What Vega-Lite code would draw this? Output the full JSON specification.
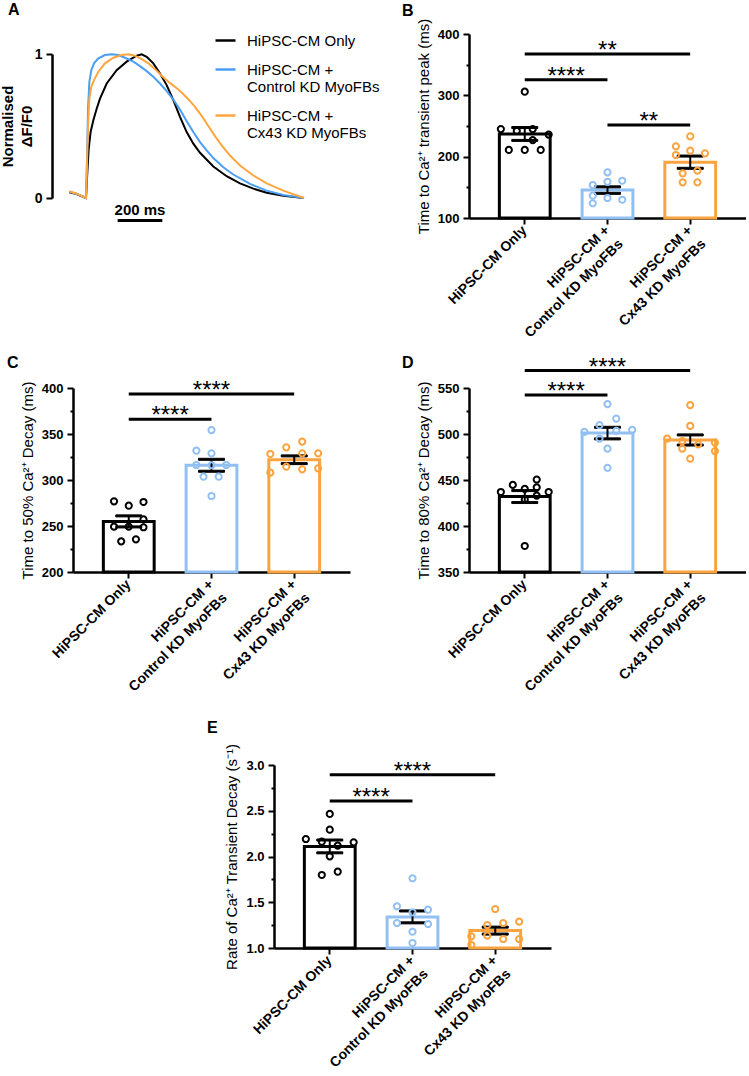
{
"$schema": "https://vega.github.io/schema/vega-lite/v6.json",
"padding": {"left": 0, "top": 1, "right": 0, "bottom": 0},
"autosize": {"type": "pad"},
"config": {
 "view": {"stroke": null},
 "font": "Liberation Sans",
 "axis": {"domainColor": "#000", "domainWidth": 2.5, "tickColor": "#000", "tickWidth": 2, "labelColor": "#000", "titleColor": "#000", "labelFont": "Liberation Sans", "titleFont": "Liberation Sans", "grid": false, "labelFontWeight": "bold", "labelFontSize": 13, "titleFontWeight": "normal", "titleFontSize": 15},
 "axisX": {"labelAngle": -45, "labelAlign": "right", "labelBaseline": "middle", "labelFontSize": 14, "tickSize": 6, "labelPadding": 4, "labelLineHeight": 19},
 "axisY": {"tickSize": 6, "labelPadding": 4, "titlePadding": 6},
 "title": {"font": "Liberation Sans", "fontSize": 16, "fontWeight": "bold", "color": "#000", "anchor": "start", "frame": "group", "offset": 0}
},
"datasets": {
 "trace": [
  {"s":"HiPSC-CM Only","t":0,"v":0.04},{"s":"HiPSC-CM Only","t":32.8,"v":0.028},{"s":"HiPSC-CM Only","t":74.6,"v":0},{"s":"HiPSC-CM Only","t":80.6,"v":0.18},{"s":"HiPSC-CM Only","t":86.6,"v":0.34},{"s":"HiPSC-CM Only","t":95.5,"v":0.46},{"s":"HiPSC-CM Only","t":107.5,"v":0.54},{"s":"HiPSC-CM Only","t":122.4,"v":0.62},{"s":"HiPSC-CM Only","t":137.3,"v":0.69},{"s":"HiPSC-CM Only","t":167.2,"v":0.795},{"s":"HiPSC-CM Only","t":211.9,"v":0.888},{"s":"HiPSC-CM Only","t":256.7,"v":0.947},{"s":"HiPSC-CM Only","t":301.5,"v":0.988},{"s":"HiPSC-CM Only","t":323.9,"v":0.998},{"s":"HiPSC-CM Only","t":346.3,"v":0.981},{"s":"HiPSC-CM Only","t":376.1,"v":0.935},{"s":"HiPSC-CM Only","t":406,"v":0.865},{"s":"HiPSC-CM Only","t":435.8,"v":0.784},{"s":"HiPSC-CM Only","t":465.7,"v":0.679},{"s":"HiPSC-CM Only","t":495.5,"v":0.563},{"s":"HiPSC-CM Only","t":525.4,"v":0.458},{"s":"HiPSC-CM Only","t":555.2,"v":0.377},{"s":"HiPSC-CM Only","t":585.1,"v":0.314},{"s":"HiPSC-CM Only","t":644.8,"v":0.219},{"s":"HiPSC-CM Only","t":704.5,"v":0.151},{"s":"HiPSC-CM Only","t":764.2,"v":0.102},{"s":"HiPSC-CM Only","t":823.9,"v":0.065},{"s":"HiPSC-CM Only","t":883.6,"v":0.037},{"s":"HiPSC-CM Only","t":958.2,"v":0.016},{"s":"HiPSC-CM Only","t":1050.7,"v":0},
  {"s":"HiPSC-CM + Control KD MyoFBs","t":0,"v":0.044},{"s":"HiPSC-CM + Control KD MyoFBs","t":32.8,"v":0.028},{"s":"HiPSC-CM + Control KD MyoFBs","t":74.6,"v":0},{"s":"HiPSC-CM + Control KD MyoFBs","t":79.1,"v":0.272},{"s":"HiPSC-CM + Control KD MyoFBs","t":83.6,"v":0.621},{"s":"HiPSC-CM + Control KD MyoFBs","t":89.6,"v":0.807},{"s":"HiPSC-CM + Control KD MyoFBs","t":98.5,"v":0.888},{"s":"HiPSC-CM + Control KD MyoFBs","t":110.4,"v":0.935},{"s":"HiPSC-CM + Control KD MyoFBs","t":129.8,"v":0.97},{"s":"HiPSC-CM + Control KD MyoFBs","t":159.7,"v":0.993},{"s":"HiPSC-CM + Control KD MyoFBs","t":189.5,"v":0.998},{"s":"HiPSC-CM + Control KD MyoFBs","t":219.4,"v":0.993},{"s":"HiPSC-CM + Control KD MyoFBs","t":249.2,"v":0.974},{"s":"HiPSC-CM + Control KD MyoFBs","t":286.6,"v":0.947},{"s":"HiPSC-CM + Control KD MyoFBs","t":316.4,"v":0.916},{"s":"HiPSC-CM + Control KD MyoFBs","t":346.3,"v":0.881},{"s":"HiPSC-CM + Control KD MyoFBs","t":376.1,"v":0.842},{"s":"HiPSC-CM + Control KD MyoFBs","t":406,"v":0.795},{"s":"HiPSC-CM + Control KD MyoFBs","t":435.8,"v":0.742},{"s":"HiPSC-CM + Control KD MyoFBs","t":465.7,"v":0.684},{"s":"HiPSC-CM + Control KD MyoFBs","t":495.5,"v":0.614},{"s":"HiPSC-CM + Control KD MyoFBs","t":525.4,"v":0.533},{"s":"HiPSC-CM + Control KD MyoFBs","t":555.2,"v":0.458},{"s":"HiPSC-CM + Control KD MyoFBs","t":585.1,"v":0.388},{"s":"HiPSC-CM + Control KD MyoFBs","t":614.9,"v":0.33},{"s":"HiPSC-CM + Control KD MyoFBs","t":644.8,"v":0.277},{"s":"HiPSC-CM + Control KD MyoFBs","t":689.5,"v":0.214},{"s":"HiPSC-CM + Control KD MyoFBs","t":734.3,"v":0.163},{"s":"HiPSC-CM + Control KD MyoFBs","t":808.9,"v":0.098},{"s":"HiPSC-CM + Control KD MyoFBs","t":883.6,"v":0.051},{"s":"HiPSC-CM + Control KD MyoFBs","t":958.2,"v":0.021},{"s":"HiPSC-CM + Control KD MyoFBs","t":1050.7,"v":0},
  {"s":"HiPSC-CM + Cx43 KD MyoFBs","t":0,"v":0.047},{"s":"HiPSC-CM + Cx43 KD MyoFBs","t":32.8,"v":0.03},{"s":"HiPSC-CM + Cx43 KD MyoFBs","t":74.6,"v":0},{"s":"HiPSC-CM + Cx43 KD MyoFBs","t":79.1,"v":0.226},{"s":"HiPSC-CM + Cx43 KD MyoFBs","t":83.6,"v":0.505},{"s":"HiPSC-CM + Cx43 KD MyoFBs","t":89.6,"v":0.691},{"s":"HiPSC-CM + Cx43 KD MyoFBs","t":98.5,"v":0.772},{"s":"HiPSC-CM + Cx43 KD MyoFBs","t":110.4,"v":0.819},{"s":"HiPSC-CM + Cx43 KD MyoFBs","t":129.8,"v":0.877},{"s":"HiPSC-CM + Cx43 KD MyoFBs","t":159.7,"v":0.935},{"s":"HiPSC-CM + Cx43 KD MyoFBs","t":197,"v":0.974},{"s":"HiPSC-CM + Cx43 KD MyoFBs","t":234.3,"v":0.993},{"s":"HiPSC-CM + Cx43 KD MyoFBs","t":264.2,"v":0.998},{"s":"HiPSC-CM + Cx43 KD MyoFBs","t":294,"v":0.988},{"s":"HiPSC-CM + Cx43 KD MyoFBs","t":323.9,"v":0.965},{"s":"HiPSC-CM + Cx43 KD MyoFBs","t":353.7,"v":0.935},{"s":"HiPSC-CM + Cx43 KD MyoFBs","t":383.6,"v":0.895},{"s":"HiPSC-CM + Cx43 KD MyoFBs","t":413.4,"v":0.849},{"s":"HiPSC-CM + Cx43 KD MyoFBs","t":443.3,"v":0.807},{"s":"HiPSC-CM + Cx43 KD MyoFBs","t":473.1,"v":0.772},{"s":"HiPSC-CM + Cx43 KD MyoFBs","t":503,"v":0.733},{"s":"HiPSC-CM + Cx43 KD MyoFBs","t":532.8,"v":0.686},{"s":"HiPSC-CM + Cx43 KD MyoFBs","t":562.7,"v":0.633},{"s":"HiPSC-CM + Cx43 KD MyoFBs","t":592.5,"v":0.57},{"s":"HiPSC-CM + Cx43 KD MyoFBs","t":622.4,"v":0.5},{"s":"HiPSC-CM + Cx43 KD MyoFBs","t":652.2,"v":0.43},{"s":"HiPSC-CM + Cx43 KD MyoFBs","t":682.1,"v":0.365},{"s":"HiPSC-CM + Cx43 KD MyoFBs","t":719.4,"v":0.295},{"s":"HiPSC-CM + Cx43 KD MyoFBs","t":764.2,"v":0.226},{"s":"HiPSC-CM + Cx43 KD MyoFBs","t":823.9,"v":0.156},{"s":"HiPSC-CM + Cx43 KD MyoFBs","t":883.6,"v":0.102},{"s":"HiPSC-CM + Cx43 KD MyoFBs","t":958.2,"v":0.051},{"s":"HiPSC-CM + Cx43 KD MyoFBs","t":1050.7,"v":0}
 ],
 "Abar": [{"t": 216.4, "t2": 416.4, "v": -0.156}],
 "Atext": [{"t": 316.4, "v": -0.119, "lab": "200 ms"}],
 "Bpts": [
  {"g":"HiPSC-CM Only","v":306,"j":0},{"g":"HiPSC-CM Only","v":245,"j":-3},{"g":"HiPSC-CM Only","v":242,"j":-1},{"g":"HiPSC-CM Only","v":245,"j":1},{"g":"HiPSC-CM Only","v":236,"j":3},{"g":"HiPSC-CM Only","v":227,"j":1},{"g":"HiPSC-CM Only","v":211,"j":-2},{"g":"HiPSC-CM Only","v":211,"j":0},{"g":"HiPSC-CM Only","v":211,"j":2},
  {"g":"HiPSC-CM + Control KD MyoFBs","v":174.5,"j":0},{"g":"HiPSC-CM + Control KD MyoFBs","v":153.8,"j":-1.85},{"g":"HiPSC-CM + Control KD MyoFBs","v":159,"j":0},{"g":"HiPSC-CM + Control KD MyoFBs","v":160.8,"j":1.85},{"g":"HiPSC-CM + Control KD MyoFBs","v":136.4,"j":-1.85},{"g":"HiPSC-CM + Control KD MyoFBs","v":132.6,"j":0},{"g":"HiPSC-CM + Control KD MyoFBs","v":129.8,"j":1.85},{"g":"HiPSC-CM + Control KD MyoFBs","v":124,"j":-1.85},
  {"g":"HiPSC-CM + Cx43 KD MyoFBs","v":233.2,"j":0},{"g":"HiPSC-CM + Cx43 KD MyoFBs","v":216.9,"j":-1.8},{"g":"HiPSC-CM + Cx43 KD MyoFBs","v":209.8,"j":0},{"g":"HiPSC-CM + Cx43 KD MyoFBs","v":202.7,"j":-1.8},{"g":"HiPSC-CM + Cx43 KD MyoFBs","v":205.5,"j":1.85},{"g":"HiPSC-CM + Cx43 KD MyoFBs","v":177.2,"j":0.9},{"g":"HiPSC-CM + Cx43 KD MyoFBs","v":172.8,"j":-0.95},{"g":"HiPSC-CM + Cx43 KD MyoFBs","v":158.2,"j":-0.95},{"g":"HiPSC-CM + Cx43 KD MyoFBs","v":158.2,"j":0.9}
 ],
 "Bsum": [{"g":"HiPSC-CM Only","v":237,"sem":10.5},{"g":"HiPSC-CM + Control KD MyoFBs","v":145.5,"sem":5.3},{"g":"HiPSC-CM + Cx43 KD MyoFBs","v":191,"sem":10}],
 "Bsig": [{"i1":1,"i2":3,"v":367.4,"lab":"**"},{"i1":1,"i2":2,"v":325.5,"lab":"****"},{"i1":2,"i2":3,"v":251.6,"lab":"**"}],
 "Cpts": [
  {"g":"HiPSC-CM Only","v":276.8,"j":-1.85},{"g":"HiPSC-CM Only","v":272.1,"j":0},{"g":"HiPSC-CM Only","v":276.1,"j":1.85},{"g":"HiPSC-CM Only","v":249.3,"j":-1.85},{"g":"HiPSC-CM Only","v":249.3,"j":0},{"g":"HiPSC-CM Only","v":257.2,"j":1.85},{"g":"HiPSC-CM Only","v":248.6,"j":1.85},{"g":"HiPSC-CM Only","v":233.3,"j":-0.95},{"g":"HiPSC-CM Only","v":235.5,"j":0.9},
  {"g":"HiPSC-CM + Control KD MyoFBs","v":354.3,"j":0},{"g":"HiPSC-CM + Control KD MyoFBs","v":331.9,"j":-1.9},{"g":"HiPSC-CM + Control KD MyoFBs","v":329,"j":0},{"g":"HiPSC-CM + Control KD MyoFBs","v":316.3,"j":-1.9},{"g":"HiPSC-CM + Control KD MyoFBs","v":316.3,"j":1.85},{"g":"HiPSC-CM + Control KD MyoFBs","v":303.6,"j":-1},{"g":"HiPSC-CM + Control KD MyoFBs","v":303.6,"j":0.9},{"g":"HiPSC-CM + Control KD MyoFBs","v":282.6,"j":0},{"g":"HiPSC-CM + Control KD MyoFBs","v":316,"j":0},
  {"g":"HiPSC-CM + Cx43 KD MyoFBs","v":328.3,"j":-3},{"g":"HiPSC-CM + Cx43 KD MyoFBs","v":335.5,"j":-1},{"g":"HiPSC-CM + Cx43 KD MyoFBs","v":341.7,"j":1},{"g":"HiPSC-CM + Cx43 KD MyoFBs","v":329,"j":3},{"g":"HiPSC-CM + Cx43 KD MyoFBs","v":329,"j":1},{"g":"HiPSC-CM + Cx43 KD MyoFBs","v":308,"j":-3},{"g":"HiPSC-CM + Cx43 KD MyoFBs","v":314.5,"j":-1},{"g":"HiPSC-CM + Cx43 KD MyoFBs","v":311.6,"j":1},{"g":"HiPSC-CM + Cx43 KD MyoFBs","v":312.7,"j":3}
 ],
 "Csum": [{"g":"HiPSC-CM Only","v":255,"sem":6},{"g":"HiPSC-CM + Control KD MyoFBs","v":316,"sem":6.5},{"g":"HiPSC-CM + Cx43 KD MyoFBs","v":322,"sem":4.2}],
 "Csig": [{"i1":1,"i2":3,"v":393.5,"lab":"****"},{"i1":1,"i2":2,"v":366,"lab":"****"}],
 "Dpts": [
  {"g":"HiPSC-CM Only","v":437,"j":-3},{"g":"HiPSC-CM Only","v":444.7,"j":-1.5},{"g":"HiPSC-CM Only","v":440.3,"j":0},{"g":"HiPSC-CM Only","v":450.5,"j":1.5},{"g":"HiPSC-CM Only","v":442,"j":1.5},{"g":"HiPSC-CM Only","v":433,"j":1.5},{"g":"HiPSC-CM Only","v":437,"j":3},{"g":"HiPSC-CM Only","v":428.7,"j":0},{"g":"HiPSC-CM Only","v":378.3,"j":0},
  {"g":"HiPSC-CM + Control KD MyoFBs","v":532.5,"j":0},{"g":"HiPSC-CM + Control KD MyoFBs","v":516.8,"j":1.1},{"g":"HiPSC-CM + Control KD MyoFBs","v":509.6,"j":-1},{"g":"HiPSC-CM + Control KD MyoFBs","v":503.4,"j":1.1},{"g":"HiPSC-CM + Control KD MyoFBs","v":502.3,"j":-2.9},{"g":"HiPSC-CM + Control KD MyoFBs","v":504.4,"j":3.1},{"g":"HiPSC-CM + Control KD MyoFBs","v":495,"j":-1},{"g":"HiPSC-CM + Control KD MyoFBs","v":484.1,"j":0},{"g":"HiPSC-CM + Control KD MyoFBs","v":463.3,"j":0},
  {"g":"HiPSC-CM + Cx43 KD MyoFBs","v":531.4,"j":0},{"g":"HiPSC-CM + Cx43 KD MyoFBs","v":508.8,"j":0},{"g":"HiPSC-CM + Cx43 KD MyoFBs","v":495,"j":-2.9},{"g":"HiPSC-CM + Cx43 KD MyoFBs","v":492.4,"j":-1},{"g":"HiPSC-CM + Cx43 KD MyoFBs","v":488.8,"j":1},{"g":"HiPSC-CM + Cx43 KD MyoFBs","v":484.1,"j":-1},{"g":"HiPSC-CM + Cx43 KD MyoFBs","v":490.7,"j":3.1},{"g":"HiPSC-CM + Cx43 KD MyoFBs","v":481.5,"j":3.1},{"g":"HiPSC-CM + Cx43 KD MyoFBs","v":473.2,"j":0}
 ],
 "Dsum": [{"g":"HiPSC-CM Only","v":432,"sem":6.5},{"g":"HiPSC-CM + Control KD MyoFBs","v":501,"sem":6.3},{"g":"HiPSC-CM + Cx43 KD MyoFBs","v":493.5,"sem":5.5}],
 "Dsig": [{"i1":1,"i2":3,"v":568.9,"lab":"****"},{"i1":1,"i2":2,"v":542.3,"lab":"****"}],
 "Epts": [
  {"g":"HiPSC-CM Only","v":2.465,"j":0},{"g":"HiPSC-CM Only","v":2.293,"j":0},{"g":"HiPSC-CM Only","v":2.191,"j":-3},{"g":"HiPSC-CM Only","v":2.162,"j":-1},{"g":"HiPSC-CM Only","v":2.118,"j":1},{"g":"HiPSC-CM Only","v":2.155,"j":3},{"g":"HiPSC-CM Only","v":2.002,"j":0},{"g":"HiPSC-CM Only","v":1.798,"j":-1},{"g":"HiPSC-CM Only","v":1.834,"j":1},
  {"g":"HiPSC-CM + Control KD MyoFBs","v":1.762,"j":0},{"g":"HiPSC-CM + Control KD MyoFBs","v":1.456,"j":-1.95},{"g":"HiPSC-CM + Control KD MyoFBs","v":1.419,"j":1.95},{"g":"HiPSC-CM + Control KD MyoFBs","v":1.39,"j":0},{"g":"HiPSC-CM + Control KD MyoFBs","v":1.273,"j":-1.95},{"g":"HiPSC-CM + Control KD MyoFBs","v":1.262,"j":1.95},{"g":"HiPSC-CM + Control KD MyoFBs","v":1.178,"j":0},{"g":"HiPSC-CM + Control KD MyoFBs","v":1.055,"j":0},
  {"g":"HiPSC-CM + Cx43 KD MyoFBs","v":1.426,"j":0},{"g":"HiPSC-CM + Cx43 KD MyoFBs","v":1.251,"j":-1},{"g":"HiPSC-CM + Cx43 KD MyoFBs","v":1.273,"j":1},{"g":"HiPSC-CM + Cx43 KD MyoFBs","v":1.288,"j":3},{"g":"HiPSC-CM + Cx43 KD MyoFBs","v":1.128,"j":-3},{"g":"HiPSC-CM + Cx43 KD MyoFBs","v":1.135,"j":-1},{"g":"HiPSC-CM + Cx43 KD MyoFBs","v":1.098,"j":1},{"g":"HiPSC-CM + Cx43 KD MyoFBs","v":1.098,"j":3},{"g":"HiPSC-CM + Cx43 KD MyoFBs","v":1.033,"j":-3}
 ],
 "Esum": [{"g":"HiPSC-CM Only","v":2.11,"sem":0.07},{"g":"HiPSC-CM + Control KD MyoFBs","v":1.34,"sem":0.065},{"g":"HiPSC-CM + Cx43 KD MyoFBs","v":1.19,"sem":0.038}],
 "Esig": [{"i1":1,"i2":3,"v":2.894,"lab":"****"},{"i1":1,"i2":2,"v":2.607,"lab":"****"}]
},
"concat": [
 {"width": 277, "height": 184,
  "title": {"text": "A", "dx": -65, "dy": -7.5},
  "encoding": {
   "x": {"field": "t", "type": "quantitative", "scale": {"domain": [16.4, 1256.7], "nice": false, "zero": false}, "axis": null},
   "y": {"field": "v", "type": "quantitative", "scale": {"domain": [0, 1], "range": [164, 20], "nice": false, "zero": false}, "axis": {"values": [0, 1], "format": "d", "offset": 21, "title": ["Normalised", "ΔF/F0"], "titleFontWeight": "bold", "titleFontSize": 15, "titleLineHeight": 19, "labelFontSize": 14, "titlePadding": 0}}
  },
  "layer": [
   {"data": {"name": "trace"}, "mark": {"type": "line", "strokeWidth": 2}, "encoding": {"color": {"field": "s", "type": "nominal", "scale": {"domain": ["HiPSC-CM Only", "HiPSC-CM + Control KD MyoFBs", "HiPSC-CM + Cx43 KD MyoFBs"], "range": ["#000000", "#4A9FF5", "#FFA540"]}, "legend": {"orient": "none", "legendX": 141, "legendY": -5, "title": null, "symbolType": "stroke", "symbolSize": 400, "symbolStrokeWidth": 2.5, "labelFontSize": 15, "labelFont": "Liberation Sans", "labelColor": "#000", "labelLimit": 300, "labelOffset": 10, "rowPadding": 9, "padding": 0, "labelExpr": "indexof(datum.label, '+') > 0 ? ['HiPSC-CM +', substring(datum.label, 11)] : datum.label"}}}},
   {"data": {"name": "Abar"}, "mark": {"type": "rule", "strokeWidth": 3, "color": "#000"}, "encoding": {"x2": {"field": "t2"}}},
   {"data": {"name": "Atext"}, "mark": {"type": "text", "fontSize": 15, "fontWeight": "bold", "baseline": "alphabetic", "align": "center", "color": "#000"}, "encoding": {"text": {"field": "lab"}}}
  ]
 },
 {"width": 277, "height": 184,
  "title": {"text": "B", "dx": -67, "dy": 5},
  "encoding": {"y": {"field": "v", "type": "quantitative", "scale": {"domain": [100, 400], "nice": false, "zero": false}, "axis": {"values": [100, 150, 200, 250, 300, 350, 400], "labelExpr": "datum.value % 100 === 0 ? datum.label : ''", "tickSize": {"condition": {"test": "datum.value % 100 !== 0", "value": 3}, "value": 6}, "title": "Time to Ca²⁺ transient peak (ms)"}}},
  "layer": [
   {"data": {"name": "Bsum"},
    "encoding": {
     "x": {"field": "g", "type": "nominal", "sort": null, "scale": {"domain": ["HiPSC-CM Only", "HiPSC-CM + Control KD MyoFBs", "HiPSC-CM + Cx43 KD MyoFBs"], "paddingInner": 0.386, "paddingOuter": 0.367}, "axis": {"title": null, "labelExpr": "indexof(datum.label, '+') > 0 ? ['HiPSC-CM +', substring(datum.label, 11)] : datum.label"}},
     "stroke": {"field": "g", "type": "nominal", "scale": {"domain": ["HiPSC-CM Only", "HiPSC-CM + Control KD MyoFBs", "HiPSC-CM + Cx43 KD MyoFBs"], "range": ["#000000", "#92C0F3", "#FBA33E"]}, "legend": null}},
    "layer": [
     {"mark": {"type": "bar", "fill": "white", "strokeWidth": 3}, "encoding": {"y2": {"datum": 100}}},
     {"mark": {"type": "errorbar", "ticks": {"size": 26, "thickness": 2, "color": "#000", "opacity": 1}, "rule": {"strokeWidth": 2, "color": "#000", "opacity": 1}}, "encoding": {"yError": {"field": "sem"}, "stroke": {"value": "#000"}}}
    ]},
   {"data": {"name": "Bpts"}, "mark": {"type": "point", "shape": "circle", "filled": false, "size": 38, "strokeWidth": 2, "opacity": 1},
    "encoding": {
     "x": {"field": "g", "type": "nominal", "sort": null, "scale": {"domain": ["HiPSC-CM Only", "HiPSC-CM + Control KD MyoFBs", "HiPSC-CM + Cx43 KD MyoFBs"], "paddingInner": 0.386, "paddingOuter": 0.367}, "axis": null},
     "xOffset": {"field": "j", "type": "quantitative", "scale": {"domain": [-3.1875, 3.1875]}},
     "stroke": {"field": "g", "type": "nominal", "scale": {"domain": ["HiPSC-CM Only", "HiPSC-CM + Control KD MyoFBs", "HiPSC-CM + Cx43 KD MyoFBs"], "range": ["#000000", "#92C0F3", "#FBA33E"]}, "legend": null}}},
   {"data": {"name": "Bsig"}, "transform": [{"calculate": "(datum.i1 + datum.i2) / 2", "as": "im"}],
    "encoding": {"x": {"field": "i1", "type": "quantitative", "scale": {"domain": [0.326, 3.675], "nice": false, "zero": false}, "axis": null}},
    "layer": [
     {"mark": {"type": "rule", "strokeWidth": 3, "color": "#000"}, "encoding": {"x2": {"field": "i2"}}},
     {"mark": {"type": "text", "fontSize": 24, "baseline": "alphabetic", "dy": 4, "color": "#000"}, "encoding": {"x": {"field": "im", "type": "quantitative"}, "text": {"field": "lab"}}}
    ]}
  ],
  "resolve": {"scale": {"x": "independent", "xOffset": "independent"}}
 },
 {"width": 277, "height": 184,
  "title": {"text": "C", "dx": -66, "dy": -4},
  "encoding": {"y": {"field": "v", "type": "quantitative", "scale": {"domain": [200, 400], "nice": false, "zero": false}, "axis": {"values": [200, 225, 250, 275, 300, 325, 350, 375, 400], "labelExpr": "datum.value % 50 === 0 ? datum.label : ''", "tickSize": {"condition": {"test": "datum.value % 50 !== 0", "value": 3}, "value": 6}, "title": "Time to 50% Ca²⁺ Decay (ms)"}}},
  "layer": [
   {"data": {"name": "Csum"},
    "encoding": {
     "x": {"field": "g", "type": "nominal", "sort": null, "scale": {"domain": ["HiPSC-CM Only", "HiPSC-CM + Control KD MyoFBs", "HiPSC-CM + Cx43 KD MyoFBs"], "paddingInner": 0.386, "paddingOuter": 0.367}, "axis": {"title": null, "labelExpr": "indexof(datum.label, '+') > 0 ? ['HiPSC-CM +', substring(datum.label, 11)] : datum.label"}},
     "stroke": {"field": "g", "type": "nominal", "scale": {"domain": ["HiPSC-CM Only", "HiPSC-CM + Control KD MyoFBs", "HiPSC-CM + Cx43 KD MyoFBs"], "range": ["#000000", "#92C0F3", "#FBA33E"]}, "legend": null}},
    "layer": [
     {"mark": {"type": "bar", "fill": "white", "strokeWidth": 3}, "encoding": {"y2": {"datum": 200}}},
     {"mark": {"type": "errorbar", "ticks": {"size": 26, "thickness": 2, "color": "#000", "opacity": 1}, "rule": {"strokeWidth": 2, "color": "#000", "opacity": 1}}, "encoding": {"yError": {"field": "sem"}, "stroke": {"value": "#000"}}}
    ]},
   {"data": {"name": "Cpts"}, "mark": {"type": "point", "shape": "circle", "filled": false, "size": 38, "strokeWidth": 2, "opacity": 1},
    "encoding": {
     "x": {"field": "g", "type": "nominal", "sort": null, "scale": {"domain": ["HiPSC-CM Only", "HiPSC-CM + Control KD MyoFBs", "HiPSC-CM + Cx43 KD MyoFBs"], "paddingInner": 0.386, "paddingOuter": 0.367}, "axis": null},
     "xOffset": {"field": "j", "type": "quantitative", "scale": {"domain": [-3.1875, 3.1875]}},
     "stroke": {"field": "g", "type": "nominal", "scale": {"domain": ["HiPSC-CM Only", "HiPSC-CM + Control KD MyoFBs", "HiPSC-CM + Cx43 KD MyoFBs"], "range": ["#000000", "#92C0F3", "#FBA33E"]}, "legend": null}}},
   {"data": {"name": "Csig"}, "transform": [{"calculate": "(datum.i1 + datum.i2) / 2", "as": "im"}],
    "encoding": {"x": {"field": "i1", "type": "quantitative", "scale": {"domain": [0.326, 3.675], "nice": false, "zero": false}, "axis": null}},
    "layer": [
     {"mark": {"type": "rule", "strokeWidth": 3, "color": "#000"}, "encoding": {"x2": {"field": "i2"}}},
     {"mark": {"type": "text", "fontSize": 24, "baseline": "alphabetic", "dy": 4, "color": "#000"}, "encoding": {"x": {"field": "im", "type": "quantitative"}, "text": {"field": "lab"}}}
    ]}
  ],
  "resolve": {"scale": {"x": "independent", "xOffset": "independent"}}
 },
 {"width": 277, "height": 184,
  "title": {"text": "D", "dx": -67, "dy": 19},
  "encoding": {"y": {"field": "v", "type": "quantitative", "scale": {"domain": [350, 550], "nice": false, "zero": false}, "axis": {"values": [350, 375, 400, 425, 450, 475, 500, 525, 550], "labelExpr": "datum.value % 50 === 0 ? datum.label : ''", "tickSize": {"condition": {"test": "datum.value % 50 !== 0", "value": 3}, "value": 6}, "title": "Time to 80% Ca²⁺ Decay (ms)"}}},
  "layer": [
   {"data": {"name": "Dsum"},
    "encoding": {
     "x": {"field": "g", "type": "nominal", "sort": null, "scale": {"domain": ["HiPSC-CM Only", "HiPSC-CM + Control KD MyoFBs", "HiPSC-CM + Cx43 KD MyoFBs"], "paddingInner": 0.386, "paddingOuter": 0.367}, "axis": {"title": null, "labelExpr": "indexof(datum.label, '+') > 0 ? ['HiPSC-CM +', substring(datum.label, 11)] : datum.label"}},
     "stroke": {"field": "g", "type": "nominal", "scale": {"domain": ["HiPSC-CM Only", "HiPSC-CM + Control KD MyoFBs", "HiPSC-CM + Cx43 KD MyoFBs"], "range": ["#000000", "#92C0F3", "#FBA33E"]}, "legend": null}},
    "layer": [
     {"mark": {"type": "bar", "fill": "white", "strokeWidth": 3}, "encoding": {"y2": {"datum": 350}}},
     {"mark": {"type": "errorbar", "ticks": {"size": 26, "thickness": 2, "color": "#000", "opacity": 1}, "rule": {"strokeWidth": 2, "color": "#000", "opacity": 1}}, "encoding": {"yError": {"field": "sem"}, "stroke": {"value": "#000"}}}
    ]},
   {"data": {"name": "Dpts"}, "mark": {"type": "point", "shape": "circle", "filled": false, "size": 38, "strokeWidth": 2, "opacity": 1},
    "encoding": {
     "x": {"field": "g", "type": "nominal", "sort": null, "scale": {"domain": ["HiPSC-CM Only", "HiPSC-CM + Control KD MyoFBs", "HiPSC-CM + Cx43 KD MyoFBs"], "paddingInner": 0.386, "paddingOuter": 0.367}, "axis": null},
     "xOffset": {"field": "j", "type": "quantitative", "scale": {"domain": [-3.1875, 3.1875]}},
     "stroke": {"field": "g", "type": "nominal", "scale": {"domain": ["HiPSC-CM Only", "HiPSC-CM + Control KD MyoFBs", "HiPSC-CM + Cx43 KD MyoFBs"], "range": ["#000000", "#92C0F3", "#FBA33E"]}, "legend": null}}},
   {"data": {"name": "Dsig"}, "transform": [{"calculate": "(datum.i1 + datum.i2) / 2", "as": "im"}],
    "encoding": {"x": {"field": "i1", "type": "quantitative", "scale": {"domain": [0.326, 3.675], "nice": false, "zero": false}, "axis": null}},
    "layer": [
     {"mark": {"type": "rule", "strokeWidth": 3, "color": "#000"}, "encoding": {"x2": {"field": "i2"}}},
     {"mark": {"type": "text", "fontSize": 24, "baseline": "alphabetic", "dy": 4, "color": "#000"}, "encoding": {"x": {"field": "im", "type": "quantitative"}, "text": {"field": "lab"}}}
    ]}
  ],
  "resolve": {"scale": {"x": "independent", "xOffset": "independent"}}
 },
 {"width": 277, "height": 206,
  "title": {"text": "E", "dx": 134, "dy": -2.5},
  "encoding": {"y": {"field": "v", "type": "quantitative", "scale": {"domain": [1, 3], "range": [206, 23], "nice": false, "zero": false}, "axis": {"offset": -201, "values": [1, 1.25, 1.5, 1.75, 2, 2.25, 2.5, 2.75, 3], "labelExpr": "datum.value % 0.5 === 0 ? format(datum.value, '.1f') : ''", "tickSize": {"condition": {"test": "datum.value % 0.5 !== 0", "value": 3}, "value": 6}, "title": "Rate of Ca²⁺ Transient Decay (s⁻¹)"}}},
  "layer": [
   {"data": {"name": "Esum"},
    "encoding": {
     "x": {"field": "g", "type": "nominal", "sort": null, "scale": {"domain": ["HiPSC-CM Only", "HiPSC-CM + Control KD MyoFBs", "HiPSC-CM + Cx43 KD MyoFBs"], "range": [201, 478], "paddingInner": 0.386, "paddingOuter": 0.367}, "axis": {"title": null, "labelExpr": "indexof(datum.label, '+') > 0 ? ['HiPSC-CM +', substring(datum.label, 11)] : datum.label"}},
     "stroke": {"field": "g", "type": "nominal", "scale": {"domain": ["HiPSC-CM Only", "HiPSC-CM + Control KD MyoFBs", "HiPSC-CM + Cx43 KD MyoFBs"], "range": ["#000000", "#92C0F3", "#FBA33E"]}, "legend": null}},
    "layer": [
     {"mark": {"type": "bar", "fill": "white", "strokeWidth": 3}, "encoding": {"y2": {"datum": 1}}},
     {"mark": {"type": "errorbar", "ticks": {"size": 26, "thickness": 2, "color": "#000", "opacity": 1}, "rule": {"strokeWidth": 2, "color": "#000", "opacity": 1}}, "encoding": {"yError": {"field": "sem"}, "stroke": {"value": "#000"}}}
    ]},
   {"data": {"name": "Epts"}, "mark": {"type": "point", "shape": "circle", "filled": false, "size": 38, "strokeWidth": 2, "opacity": 1},
    "encoding": {
     "x": {"field": "g", "type": "nominal", "sort": null, "scale": {"domain": ["HiPSC-CM Only", "HiPSC-CM + Control KD MyoFBs", "HiPSC-CM + Cx43 KD MyoFBs"], "range": [201, 478], "paddingInner": 0.386, "paddingOuter": 0.367}, "axis": null},
     "xOffset": {"field": "j", "type": "quantitative", "scale": {"domain": [-3.1875, 3.1875]}},
     "stroke": {"field": "g", "type": "nominal", "scale": {"domain": ["HiPSC-CM Only", "HiPSC-CM + Control KD MyoFBs", "HiPSC-CM + Cx43 KD MyoFBs"], "range": ["#000000", "#92C0F3", "#FBA33E"]}, "legend": null}}},
   {"data": {"name": "Esig"}, "transform": [{"calculate": "(datum.i1 + datum.i2) / 2", "as": "im"}],
    "encoding": {"x": {"field": "i1", "type": "quantitative", "scale": {"domain": [0.326, 3.675], "range": [201, 478], "nice": false, "zero": false}, "axis": null}},
    "layer": [
     {"mark": {"type": "rule", "strokeWidth": 3, "color": "#000"}, "encoding": {"x2": {"field": "i2"}}},
     {"mark": {"type": "text", "fontSize": 24, "baseline": "alphabetic", "dy": 4, "color": "#000"}, "encoding": {"x": {"field": "im", "type": "quantitative"}, "text": {"field": "lab"}}}
    ]}
  ],
  "resolve": {"scale": {"x": "independent", "xOffset": "independent"}}
 }
],
"columns": 2,
"spacing": {"row": 170, "column": 119},
"bounds": "flush",
"resolve": {"scale": {"color": "independent", "stroke": "independent"}, "legend": {"color": "independent", "stroke": "independent"}}
}
